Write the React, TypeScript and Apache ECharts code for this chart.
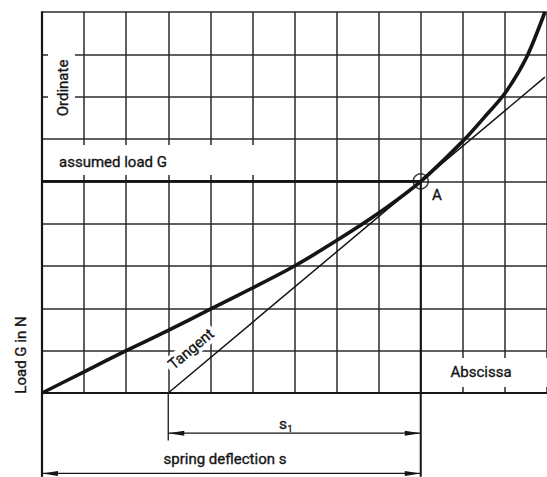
import React, { useEffect, useRef } from "react";
import * as echarts from "echarts";

// Spring characteristic: deflection s (grid units) vs load G (grid units)
const curveS = [0, 1, 2, 3, 4, 5, 6, 7, 8, 9, 10, 10.5, 11, 11.5, 11.95];
const curveG = [0, 0.5, 1.0, 1.48, 1.98, 2.48, 3.0, 3.6, 4.25, 5.0, 5.95, 6.5, 7.08, 7.9, 9.0];

// Point A (assumed load on the curve)
const pointA = [9, 5];
// Tangent through A, starting on the abscissa
const tangentS = [3, 11.95];
const tangentG = [0, 7.46];

// Dimension lines below the abscissa (grid units)
const s1Span = [3, 9];
const s1Level = -0.95;
const s1ExtEnd = -1.12;
const sSpan = [0, 9];
const sLevel = -1.9;
const extBottom = -1.98;

// Axis ranges
const xRange = [0, 12];
const yRange = [0, 9];

const INK = "#151515";
const FONT = 'Roboto, "Liberation Sans", Arial, sans-serif';

const arrowLeft = "path://M0,3L16,0L16,6Z";
const arrowRight = "path://M16,3L0,0L0,6Z";

export default function App() {
  const ref = useRef<HTMLDivElement>(null);

  useEffect(() => {
    document.body.style.margin = "0";
    if (!ref.current) return;
    const chart = echarts.init(ref.current, undefined, { renderer: "svg" });

    const plain = (data: number[][], width: number, extra: any = {}) => ({
      type: "line",
      data,
      showSymbol: false,
      clip: false,
      silent: true,
      lineStyle: { color: INK, width },
      z: 2,
      ...extra,
    });

    const dimension = (span: number[], level: number) => ({
      type: "line",
      clip: false,
      silent: true,
      showSymbol: true,
      showAllSymbol: true,
      lineStyle: { color: INK, width: 1.3 },
      itemStyle: { color: INK, borderWidth: 0 },
      data: [
        { value: [span[0], level], symbol: arrowLeft, symbolSize: [16, 5], symbolOffset: ["50%", 0] },
        { value: [span[1], level], symbol: arrowRight, symbolSize: [16, 5], symbolOffset: ["-50%", 0] },
      ],
      z: 2,
    });

    const textStyle = (size: number) => ({
      fill: INK,
      stroke: INK,
      lineWidth: 0.35,
      fontSize: size,
      fontFamily: FONT,
    });

    chart.setOption({
      animation: false,
      backgroundColor: "#ffffff",
      grid: { left: 42, top: 12, width: 508, height: 381 },
      xAxis: {
        type: "value",
        min: xRange[0],
        max: xRange[1],
        interval: 1,
        axisLine: { show: true, onZero: false, lineStyle: { color: INK, width: 2.2 } },
        axisTick: { show: false },
        axisLabel: { show: false },
        splitLine: { show: true, lineStyle: { color: "#2b2b2b", width: 1.5 } },
      },
      yAxis: {
        type: "value",
        min: yRange[0],
        max: yRange[1],
        interval: 1,
        axisLine: { show: true, onZero: false, lineStyle: { color: INK, width: 2.2 } },
        axisTick: { show: false },
        axisLabel: { show: false },
        splitLine: { show: true, lineStyle: { color: "#2b2b2b", width: 1.5 } },
      },
      series: [
        plain(curveS.map((s, i) => [s, curveG[i]]), 3.6, { smooth: 0.3 }),
        plain(tangentS.map((s, i) => [s, tangentG[i]]), 1.5),
        plain([[0, pointA[1]], pointA], 2.6),
        plain([pointA, [pointA[0], extBottom]], 2),
        plain([[0, 0], [0, extBottom]], 2.2),
        plain([[s1Span[0], 0], [s1Span[0], s1ExtEnd]], 1.3),
        dimension(s1Span, s1Level),
        dimension(sSpan, sLevel),
        {
          type: "scatter",
          data: [pointA],
          symbol: "circle",
          symbolSize: 15,
          silent: true,
          itemStyle: { color: "rgba(0,0,0,0)", borderColor: INK, borderWidth: 1.6 },
          z: 4,
        },
      ],
      graphic: [
        // Ordinate label
        { type: "rect", z: 1, shape: { x: 48, y: 22, width: 27, height: 108 }, style: { fill: "#fff" } },
        {
          type: "text", z: 5, x: 63, y: 88, rotation: Math.PI / 2,
          style: { text: "Ordinate", align: "center", verticalAlign: "middle", ...textStyle(15) },
        },
        // assumed load G
        { type: "rect", z: 1, shape: { x: 48, y: 145, width: 227, height: 30 }, style: { fill: "#fff" } },
        {
          type: "text", z: 5, x: 59, y: 162,
          style: { text: "assumed load G", align: "left", verticalAlign: "middle", ...textStyle(15) },
        },
        // A
        {
          type: "text", z: 5, x: 437, y: 195,
          style: { text: "A", align: "center", verticalAlign: "middle", ...textStyle(15) },
        },
        // Tangent
        {
          type: "group", x: 191, y: 349, rotation: 0.695, z: 1,
          children: [
            { type: "rect", z: 1, shape: { x: -30, y: -9, width: 60, height: 18 }, style: { fill: "#fff" } },
            {
              type: "text", z: 5, x: 0, y: 0,
              style: { text: "Tangent", align: "center", verticalAlign: "middle", ...textStyle(15) },
            },
          ],
        },
        // Abscissa
        { type: "rect", z: 1, shape: { x: 445, y: 358, width: 102, height: 29 }, style: { fill: "#fff" } },
        {
          type: "text", z: 5, x: 481, y: 372,
          style: { text: "Abscissa", align: "center", verticalAlign: "middle", ...textStyle(15) },
        },
        // s1
        {
          type: "text", z: 5, x: 283, y: 424,
          style: { text: "s", align: "center", verticalAlign: "middle", ...textStyle(15.5) },
        },
        {
          type: "text", z: 5, x: 290, y: 429,
          style: { text: "1", align: "center", verticalAlign: "middle", ...textStyle(9) },
        },
        // spring deflection s
        {
          type: "text", z: 5, x: 225, y: 459,
          style: { text: "spring deflection s", align: "center", verticalAlign: "middle", ...textStyle(15) },
        },
        // Load G in N
        {
          type: "text", z: 5, x: 21, y: 355, rotation: Math.PI / 2,
          style: { text: "Load G in N", align: "center", verticalAlign: "middle", ...textStyle(15) },
        },
      ],
    });

    return () => chart.dispose();
  }, []);

  return <div ref={ref} style={{ width: 547, height: 477 }} />;
}
